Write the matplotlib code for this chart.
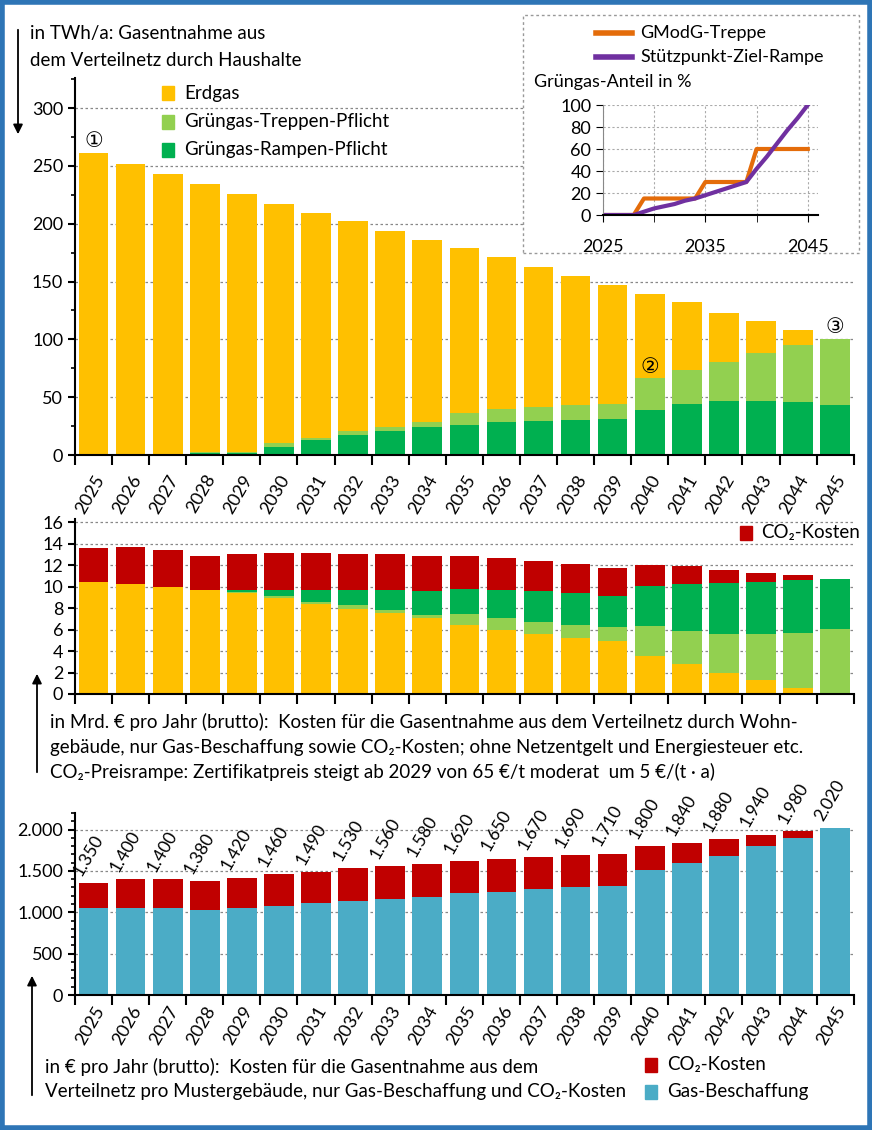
import matplotlib
matplotlib.use("Agg")
import matplotlib.pyplot as plt
import numpy as np
from matplotlib.patches import Rectangle
from matplotlib.lines import Line2D
from matplotlib.ticker import MultipleLocator, FuncFormatter

plt.rcParams['font.family'] = ['Lato', 'DejaVu Sans']

years = list(range(2025, 2046))
# top chart (TWh/a), cumulative tops
top_total = [261, 252, 243, 234, 226, 217, 209.5, 202, 194, 186, 179, 171, 163, 155, 147, 139, 132, 123, 116, 108, 100]
top_ramp = [0, 0, 0, 1.5, 1.5, 7, 13, 17.5, 21, 24, 26, 28.5, 29.5, 30.5, 31, 38.5, 44, 47, 47, 46, 43]
top_trep_cum = [0, 0, 0, 2.5, 2.5, 10, 15, 20.5, 24, 28.5, 36, 39.5, 41.5, 43, 44, 67, 73.5, 80.5, 88, 95, 100]

# inset (%)
inset_years = years
gmodg = [0, 0, 0, 0, 15, 15, 15, 15, 15, 15, 30, 30, 30, 30, 30, 60, 60, 60, 60, 60, 60]
rampe = [0, 0, 0, 0, 3, 6, 8, 10, 13, 15, 18, 21, 24, 27, 30, 42, 53, 65, 77, 88, 100]

# middle chart (Mrd. €), cumulative tops
mid_erdgas = [10.4, 10.25, 10.0, 9.7, 9.4, 8.9, 8.35, 7.9, 7.55, 7.05, 6.45, 5.95, 5.6, 5.25, 4.9, 3.5, 2.75, 2.0, 1.3, 0.6, 0]
mid_trep_cum = [10.4, 10.25, 10.0, 9.7, 9.5, 9.1, 8.6, 8.25, 7.85, 7.4, 7.45, 7.05, 6.7, 6.45, 6.2, 6.35, 5.85, 5.6, 5.6, 5.7, 6.1]
mid_ramp_cum = [10.4, 10.25, 10.0, 9.7, 9.65, 9.7, 9.7, 9.7, 9.7, 9.55, 9.8, 9.7, 9.55, 9.4, 9.15, 10.1, 10.25, 10.35, 10.45, 10.6, 10.7]
mid_total = [13.6, 13.7, 13.4, 12.85, 13.0, 13.1, 13.1, 13.0, 13.0, 12.85, 12.85, 12.7, 12.35, 12.15, 11.75, 12.0, 11.9, 11.55, 11.3, 11.05, 10.7]

# bottom chart (€ per year)
bot_gas = [1050, 1050, 1050, 1030, 1050, 1080, 1110, 1140, 1160, 1190, 1230, 1250, 1280, 1300, 1320, 1510, 1600, 1680, 1800, 1900, 2020]
bot_total = [1350, 1400, 1400, 1380, 1420, 1460, 1490, 1530, 1560, 1580, 1620, 1650, 1670, 1690, 1710, 1800, 1840, 1880, 1940, 1980, 2020]

YEL = '#FFC000'; LG = '#92D050'; DG = '#00B050'; RED = '#C00000'; BLUE = '#4BACC6'
ORA = '#E46C0A'; PUR = '#7030A0'

W, H = 872, 1130
fig = plt.figure(figsize=(W/100, H/100), dpi=100)
def fy(p): return 1 - p/H
def fx(p): return p/W

x = np.arange(len(years))
bw = 0.8
XL, XR = 0.086, 0.979

def style(ax, ylim, major, minor=None):
    ax.set_xlim(-0.48, 20.45)
    ax.set_ylim(*ylim)
    for s in ['top', 'right']:
        ax.spines[s].set_visible(False)
    ax.spines['left'].set_linewidth(1.5)
    ax.spines['bottom'].set_linewidth(1.5)
    ax.yaxis.set_major_locator(MultipleLocator(major))
    if minor:
        ax.yaxis.set_minor_locator(MultipleLocator(minor))
    ax.tick_params(axis='y', labelsize=13, direction='out', length=5, width=1.5)
    ax.tick_params(axis='y', which='minor', length=3, width=1.2)
    ax.set_xticks(np.arange(-0.5, 21, 1))
    ax.set_xticklabels([])
    ax.tick_params(axis='x', direction='out', length=7, width=1.5)
    ax.yaxis.grid(True, linestyle=(0, (2, 2)), color='#888888', linewidth=0.9)
    ax.set_axisbelow(True)

def year_labels(ax):
    for i, y in enumerate(years):
        ax.text(i, -0.045, str(y), rotation=60, ha='right', va='top', fontsize=13,
                transform=ax.get_xaxis_transform(), rotation_mode='anchor')

# ---------- top ----------
ax1 = fig.add_axes([XL, fy(455), XR-XL, (455-78)/H])
style(ax1, (0, 326), 50, 25)
ax1.bar(x, top_total, bw, color=YEL, zorder=2)
ax1.bar(x, top_trep_cum, bw, color=LG, zorder=2)
ax1.bar(x, top_ramp, bw, color=DG, zorder=2)
year_labels(ax1)
ax1.text(0, 263, '①', ha='center', va='bottom', fontsize=15, family=['DejaVu Sans'])
ax1.text(15, 76, '②', ha='center', va='center', fontsize=15, family=['DejaVu Sans'],
         bbox=dict(boxstyle='circle,pad=0.0', fc=YEL, ec='none'))
ax1.text(20, 102, '③', ha='center', va='bottom', fontsize=15, family=['DejaVu Sans'])

for i, (lab, c) in enumerate([('Erdgas', YEL), ('Grüngas-Treppen-Pflicht', LG), ('Grüngas-Rampen-Pflicht', DG)]):
    yy = [93, 122, 150][i]
    fig.patches.append(Rectangle((fx(162), fy(yy+7)), 12/W, 14/H, color=c, transform=fig.transFigure))
    fig.text(fx(184), fy(yy), lab, fontsize=13.5, va='center')

fig.text(fx(30), fy(33), 'in TWh/a: Gasentnahme aus', fontsize=13.5, va='center')
fig.text(fx(30), fy(60), 'dem Verteilnetz durch Haushalte', fontsize=13.5, va='center')
fig.add_artist(matplotlib.patches.FancyArrowPatch((fx(18), fy(27)), (fx(18), fy(137)),
               transform=fig.transFigure, arrowstyle='-|>', mutation_scale=14, color='black', lw=1.3))

# inset box
fig.patches.append(Rectangle((fx(523), fy(253)), (859-523)/W, (253-15)/H, fill=False,
                             ec='#999999', ls=(0, (2, 2)), lw=1, transform=fig.transFigure, zorder=3))
fig.patches.append(Rectangle((fx(524), fy(252)), (858-525)/W, (252-16)/H, fill=True,
                             fc='white', ec='none', transform=fig.transFigure, zorder=2.9))
axi = fig.add_axes([fx(603), fy(215), (818-603)/W*1.0, (215-105)/H], zorder=4)
axi.plot(inset_years, gmodg, color=ORA, lw=3)
axi.plot(inset_years, rampe, color=PUR, lw=3)
axi.set_xlim(2025, 2046)
axi.set_ylim(0, 100)
axi.set_xticks([2025, 2035, 2045])
axi.set_yticks(range(0, 101, 20))
axi.xaxis.set_minor_locator(MultipleLocator(5))
axi.tick_params(axis='both', which='both', labelsize=13, length=5)
axi.tick_params(axis='x', which='both', direction='out', pad=12)
axi.grid(True, which='both', linestyle=(0, (2, 2)), color='#aaaaaa', lw=0.8)
for s in ['top', 'right']:
    axi.spines[s].set_visible(False)
axi.spines['left'].set_color('#888888')
axi.spines['bottom'].set_linewidth(1.5)
axi.patch.set_alpha(0)
for i, (lab, c) in enumerate([('GModG-Treppe', ORA), ('Stützpunkt-Ziel-Rampe', PUR)]):
    yy = [33, 57][i]
    fig.add_artist(Line2D([fx(596), fx(632)], [fy(yy), fy(yy)], color=c, lw=4, transform=fig.transFigure, zorder=5))
    fig.text(fx(640), fy(yy), lab, fontsize=13, va='center', zorder=5)
fig.text(fx(534), fy(82), 'Grüngas-Anteil in %', fontsize=13, va='center', zorder=5)

# ---------- middle ----------
ax2 = fig.add_axes([XL, fy(694), XR-XL, (694-519)/H])
style(ax2, (0, 16.3), 2)
ax2.bar(x, mid_total, bw, color=RED, zorder=2)
ax2.bar(x, mid_ramp_cum, bw, color=DG, zorder=2)
ax2.bar(x, mid_trep_cum, bw, color=LG, zorder=2)
ax2.bar(x, mid_erdgas, bw, color=YEL, zorder=2)
fig.patches.append(Rectangle((fx(740), fy(540)), 12/W, 14/H, color=RED, transform=fig.transFigure))
fig.text(fx(761), fy(533), 'CO₂-Kosten', fontsize=13.5, va='center')
for yy, t in [(722, 'in Mrd. € pro Jahr (brutto):  Kosten für die Gasentnahme aus dem Verteilnetz durch Wohn-'),
              (748, 'gebäude, nur Gas-Beschaffung sowie CO₂-Kosten; ohne Netzentgelt und Energiesteuer etc.'),
              (772, 'CO₂-Preisrampe: Zertifikatpreis steigt ab 2029 von 65 €/t moderat  um 5 €/(t · a)')]:
    fig.text(fx(50), fy(yy), t, fontsize=13.5, va='center')
fig.add_artist(matplotlib.patches.FancyArrowPatch((fx(37), fy(775)), (fx(37), fy(671)),
               transform=fig.transFigure, arrowstyle='-|>', mutation_scale=14, color='black', lw=1.3))

# ---------- bottom ----------
ax3 = fig.add_axes([XL, fy(995), XR-XL, (995-813)/H])
style(ax3, (0, 2200), 500, 100)
ax3.yaxis.set_major_formatter(FuncFormatter(lambda v, p: f'{int(v):,}'.replace(',', '.')))
ax3.bar(x, bot_total, bw, color=RED, zorder=2)
ax3.bar(x, bot_gas, bw, color=BLUE, zorder=2)
year_labels(ax3)
for i, v in enumerate(bot_total):
    ax3.text(i - 0.25, v + 55, f'{v:,}'.replace(',', '.'), rotation=60, ha='left', va='bottom',
             fontsize=12.5, rotation_mode='anchor')
for yy, lab, c in [(1065, 'CO₂-Kosten', RED), (1092, 'Gas-Beschaffung', BLUE)]:
    fig.patches.append(Rectangle((fx(645), fy(yy+7)), 12/W, 14/H, color=c, transform=fig.transFigure))
    fig.text(fx(667), fy(yy), lab, fontsize=13.5, va='center')
fig.text(fx(45), fy(1067), 'in € pro Jahr (brutto):  Kosten für die Gasentnahme aus dem', fontsize=13.5, va='center')
fig.text(fx(45), fy(1092), 'Verteilnetz pro Mustergebäude, nur Gas-Beschaffung und CO₂-Kosten', fontsize=13.5, va='center')
fig.add_artist(matplotlib.patches.FancyArrowPatch((fx(32), fy(1098)), (fx(32), fy(973)),
               transform=fig.transFigure, arrowstyle='-|>', mutation_scale=14, color='black', lw=1.3))

# blue frame
fig.patches.append(Rectangle((0.002, 0.002), 0.996, 0.996, fill=False, ec='#2E75B6', lw=4,
                             transform=fig.transFigure))

fig.savefig('out.png', dpi=100)
